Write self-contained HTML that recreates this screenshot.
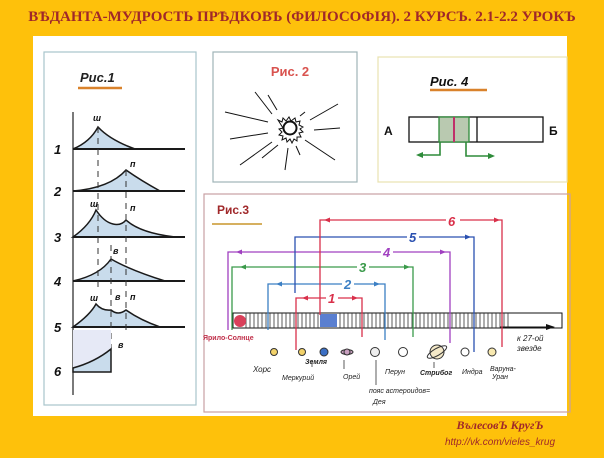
<!DOCTYPE html>
<html><head><meta charset="utf-8"><style>
html,body{margin:0;padding:0;}
body{width:604px;height:453px;background:#FEC10B;overflow:hidden;}
</style></head><body>
<svg width="604" height="453" viewBox="0 0 604 453" xmlns="http://www.w3.org/2000/svg" font-family="Liberation Sans, sans-serif">
<rect width="604" height="453" fill="#FEC10B"/>
<text x="302" y="21" text-anchor="middle" font-family="Liberation Serif, serif" font-weight="bold" font-size="15" fill="#A0282A">ВѢДАНТА-МУДРОСТЬ ПРѢДКОВЪ (ФИЛОСОФIЯ). 2 КУРСЪ. 2.1-2.2 УРОКЪ</text>
<rect x="33" y="36" width="534" height="380" fill="#FFFFFF"/>

<!-- Fig 1 -->
<rect x="44" y="52" width="152" height="353" fill="none" stroke="#A8C4CC" stroke-width="1.2"/>
<text x="80" y="82" font-style="italic" font-weight="bold" font-size="13" fill="#222">Рис.1</text>
<line x1="78" y1="88" x2="122" y2="88" stroke="#D9822B" stroke-width="2.5"/>
<line x1="73" y1="112" x2="73" y2="395" stroke="#222" stroke-width="1.2"/>
<g fill="#C9DCEC" stroke="#1a1a1a" stroke-width="1.5">
<path d="M73 149 Q90 142 98 127 Q110 140 135 149 Z"/>
<path d="M73 191 Q110 188 126 170 Q140 180 160 191 Z"/>
<path d="M73 237 Q90 225 96 210 Q104 222 113 224 Q121 226 126 220 Q140 233 175 237 Z"/>
<path d="M73 281 Q100 275 111 259 Q130 270 165 281 Z"/>
<path d="M73 327 Q90 315 96 304 Q102 311 111 310 Q118 316 126 310 Q140 320 160 327 Z"/>
</g>
<g stroke="#1a1a1a" stroke-width="2" fill="none">
<line x1="73" y1="149" x2="185" y2="149"/><line x1="73" y1="191" x2="185" y2="191"/>
<line x1="73" y1="237" x2="185" y2="237"/><line x1="73" y1="281" x2="185" y2="281"/>
<line x1="73" y1="327" x2="185" y2="327"/>
</g>
<g stroke="#333" stroke-width="1" stroke-dasharray="6,5">
<line x1="98" y1="127" x2="98" y2="290"/><line x1="126" y1="170" x2="126" y2="330"/>
<line x1="111" y1="245" x2="111" y2="370"/>
</g>
<rect x="73" y="330" width="38" height="38" fill="#E6E9F6"/>
<path d="M73 368 Q95 362 111 349 L111 372 L73 372 Z" fill="#C9DCEC" stroke="#1a1a1a" stroke-width="1.5"/>
<g font-style="italic" font-size="13" fill="#111" font-weight="bold">
<text x="54" y="154">1</text><text x="54" y="196">2</text><text x="54" y="242">3</text>
<text x="54" y="286">4</text><text x="54" y="332">5</text><text x="54" y="376">6</text>
</g>
<g font-style="italic" font-size="9" fill="#111" font-weight="bold">
<text x="93" y="121">ш</text><text x="130" y="167">п</text><text x="90" y="207">ш</text><text x="130" y="211">п</text>
<text x="113" y="254">в</text><text x="90" y="301">ш</text><text x="115" y="300">в</text><text x="130" y="300">п</text><text x="118" y="348">в</text>
</g>

<!-- Fig 2 -->
<rect x="213" y="52" width="144" height="130" fill="none" stroke="#9FB4B8" stroke-width="1.2"/>
<text x="290" y="76" text-anchor="middle" font-size="13" font-weight="bold" fill="#D9534F">Рис. 2</text>
<circle cx="290" cy="128" r="6.5" fill="none" stroke="#111" stroke-width="2"/>
<path d="M278 120 l4 2 l1-4 l3 3 l3-4 l2 4 l4-3 l1 4 l4-1 l-1 4 l4 2 l-3 2 l3 3 l-4 1 l2 4 l-4 0 l0 4 l-3-2 l-2 4 l-2-4 l-3 3 l-1-4 l-4 2 l1-4 l-4-1 l3-3 l-3-3 l4-1 z" fill="none" stroke="#111" stroke-width="1"/>
<g stroke="#111" stroke-width="1">
<line x1="255" y1="92" x2="272" y2="114"/><line x1="268" y1="95" x2="277" y2="110"/>
<line x1="225" y1="112" x2="268" y2="122"/><line x1="230" y1="139" x2="268" y2="133"/>
<line x1="240" y1="165" x2="272" y2="142"/><line x1="262" y1="158" x2="278" y2="145"/>
<line x1="285" y1="170" x2="288" y2="148"/><line x1="300" y1="155" x2="296" y2="146"/>
<line x1="335" y1="160" x2="305" y2="140"/><line x1="340" y1="128" x2="314" y2="130"/>
<line x1="338" y1="104" x2="310" y2="120"/><line x1="305" y1="112" x2="300" y2="116"/>
</g>

<!-- Fig 4 -->
<rect x="378" y="57" width="189" height="125" fill="none" stroke="#E8E2B0" stroke-width="1.2"/>
<text x="430" y="86" font-style="italic" font-size="13" font-weight="bold" fill="#111">Рис. 4</text>
<line x1="430" y1="90" x2="487" y2="90" stroke="#D9822B" stroke-width="2.5"/>
<rect x="409" y="117" width="134" height="25" fill="none" stroke="#111" stroke-width="1.3"/>
<rect x="439" y="117" width="30" height="25" fill="#B9C9B0" stroke="#2E8B3A" stroke-width="1.3"/>
<line x1="454" y1="117" x2="454" y2="142" stroke="#C0306A" stroke-width="2"/>
<line x1="477" y1="117" x2="477" y2="142" stroke="#111" stroke-width="1.3"/>
<text x="384" y="135" font-weight="bold" font-size="12" fill="#111">А</text>
<text x="549" y="135" font-weight="bold" font-size="12" fill="#111">Б</text>
<g stroke="#2E8B3A" stroke-width="1.6" fill="none">
<path d="M440 142 V155 H420"/><path d="M466 142 V156 H490"/>
</g>
<path d="M416 155 l7-3 v6 z M495 156 l-7-3 v6 z" fill="#2E8B3A"/>

<!-- Fig 3 -->
<rect x="204" y="194" width="366" height="218" fill="none" stroke="#C9A0A4" stroke-width="1.2"/>
<text x="217" y="214" font-size="12" font-weight="bold" fill="#A0282A">Рис.3</text>
<line x1="212" y1="224" x2="262" y2="224" stroke="#C9962B" stroke-width="1.5"/>
<rect x="233" y="313" width="329" height="15" fill="none" stroke="#111" stroke-width="1"/>
<path d="M246 313 V328 M250 313 V328 M254 313 V328 M258 313 V328 M262 313 V328 M266 313 V328 M270 313 V328 M274 313 V328 M278 313 V328 M282 313 V328 M286 313 V328 M290 313 V328 M294 313 V328 M298 313 V328 M302 313 V328 M306 313 V328 M310 313 V328 M314 313 V328 M318 313 V328 M340 313 V328 M344 313 V328 M348 313 V328 M352 313 V328 M356 313 V328 M360 313 V328 M364 313 V328 M368 313 V328 M372 313 V328 M376 313 V328 M380 313 V328 M384 313 V328 M388 313 V328 M392 313 V328 M396 313 V328 M400 313 V328 M404 313 V328 M408 313 V328 M412 313 V328 M416 313 V328 M420 313 V328 M424 313 V328 M428 313 V328 M432 313 V328 M436 313 V328 M440 313 V328 M444 313 V328 M448 313 V328 M452 313 V328 M456 313 V328 M460 313 V328 M464 313 V328 M468 313 V328 M472 313 V328 M476 313 V328 M480 313 V328 M484 313 V328 M488 313 V328 M492 313 V328 M496 313 V328 M500 313 V328 M504 313 V328 M508 313 V328" stroke="#333" stroke-width="0.8"/>
<rect x="320" y="314" width="17" height="13" fill="#5A7FD0"/>
<line x1="500" y1="327" x2="550" y2="327" stroke="#111" stroke-width="1"/>
<path d="M555 327 l-9-3 v6 z" fill="#111"/>
<circle cx="240" cy="321" r="6" fill="#D9405A"/>
<g fill="none" stroke-width="1.3">
<path d="M296 350 V298 H362 V337" stroke="#D9304A"/>
<path d="M268 330 V284 H385 V340" stroke="#3B7FC4"/>
<path d="M232 330 V267 H413 V337" stroke="#3A9A4A"/>
<path d="M228 330 V252 H450 V343" stroke="#A040C0"/>
<path d="M295 293 V237 H474 V352" stroke="#2A50B0"/>
<path d="M320 315 V220 H502 V347" stroke="#D9304A"/>
</g>
<g font-style="italic" font-size="13" font-weight="bold">
<rect x="326" y="290" width="12" height="14" fill="#fff"/><text x="328" y="303" fill="#D9304A">1</text>
<rect x="342" y="276" width="12" height="14" fill="#fff"/><text x="344" y="289" fill="#3B7FC4">2</text>
<rect x="357" y="259" width="12" height="14" fill="#fff"/><text x="359" y="272" fill="#3A9A4A">3</text>
<rect x="381" y="244" width="12" height="14" fill="#fff"/><text x="383" y="257" fill="#A040C0">4</text>
<rect x="407" y="229" width="12" height="14" fill="#fff"/><text x="409" y="242" fill="#2A50B0">5</text>
<rect x="446" y="212" width="14" height="14" fill="#fff"/><text x="448" y="226" fill="#D9304A">6</text>
</g>
<g>
<path d="M302 298 l6-2.5 v5 z" fill="#D9304A"/><path d="M358 298 l-6-2.5 v5 z" fill="#D9304A"/>
<path d="M276 284 l6-2.5 v5 z" fill="#3B7FC4"/><path d="M380 284 l-6-2.5 v5 z" fill="#3B7FC4"/>
<path d="M240 267 l6-2.5 v5 z" fill="#3A9A4A"/><path d="M410 267 l-6-2.5 v5 z" fill="#3A9A4A"/>
<path d="M236 252 l6-2.5 v5 z" fill="#A040C0"/><path d="M446 252 l-6-2.5 v5 z" fill="#A040C0"/>
<path d="M471 237 l-6-2.5 v5 z" fill="#2A50B0"/>
<path d="M324 220 l6-2.5 v5 z" fill="#D9304A"/><path d="M500 220 l-6-2.5 v5 z" fill="#D9304A"/>
</g>
<g stroke="#333" stroke-width="1">
<circle cx="274" cy="352" r="3.5" fill="#F2D26A"/>
<circle cx="302" cy="352" r="3.5" fill="#F2D26A"/>
<circle cx="324" cy="352" r="4" fill="#3B6FC4"/>
<ellipse cx="347" cy="352" rx="6" ry="2.5" fill="#C9A0C0"/><circle cx="347" cy="352" r="3" fill="#C9A0C0"/>
<circle cx="375" cy="352" r="4.5" fill="#eee"/>
<circle cx="403" cy="352" r="4.5" fill="#fff"/>
<circle cx="437" cy="352" r="7" fill="#F4E9C8"/><ellipse cx="437" cy="352" rx="11" ry="3.5" fill="none" transform="rotate(-30 437 352)"/>
<circle cx="465" cy="352" r="4" fill="#fff"/>
<circle cx="492" cy="352" r="4" fill="#F8E9B0"/>
</g>
<g font-style="italic" font-size="7" fill="#222">
<text x="203" y="340" font-style="normal" font-weight="bold" fill="#C0304A">Ярило-Солнце</text>
<text x="253" y="372" font-size="8">Хорс</text>
<text x="282" y="380">Меркурий</text>
<text x="305" y="364" font-weight="bold">Земля</text>
<text x="343" y="379">Орей</text>
<text x="385" y="374">Перун</text>
<text x="420" y="375" font-weight="bold">Стрибог</text>
<text x="462" y="374">Индра</text>
<text x="490" y="371">Варуна-</text><text x="492" y="379">Уран</text>
<text x="369" y="393">пояс астероидов=</text><text x="373" y="404">Дея</text>
<text x="517" y="341" font-size="8">к 27-ой</text><text x="517" y="351" font-size="8">звезде</text>
</g>
<g stroke="#333" stroke-width="0.8"><line x1="312" y1="360" x2="312" y2="367"/><line x1="344" y1="360" x2="344" y2="369"/><line x1="376" y1="360" x2="376" y2="385"/><line x1="434" y1="362" x2="434" y2="368"/></g>

<text x="500" y="429" text-anchor="middle" font-family="Liberation Serif, serif" font-style="italic" font-weight="bold" font-size="12" fill="#A0282A">ВълесовЪ КругЪ</text>
<text x="500" y="445" text-anchor="middle" font-size="10" fill="#A0282A" font-style="italic">http://vk.com/vieles_krug</text>
</svg>
</body></html>
